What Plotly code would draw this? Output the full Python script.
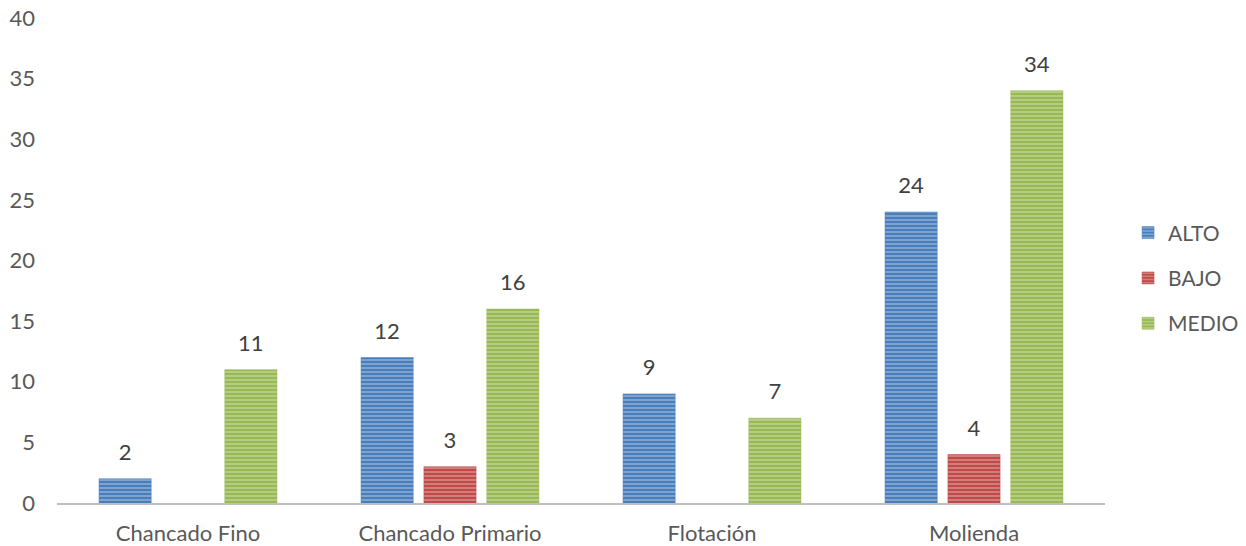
import plotly.graph_objects as go

categories = ["Chancado Fino", "Chancado Primario", "Flotación", "Molienda"]
alto = [2, 12, 9, 24]
bajo = [0, 3, 0, 4]
medio = [11, 16, 7, 34]
y_ticks = [0, 5, 10, 15, 20, 25, 30, 35, 40]

series = [
    ("ALTO", alto, "#4A7EBB", "#CCDAF0"),
    ("BAJO", bajo, "#BE4B48", "#F0C8C7"),
    ("MEDIO", medio, "#98B954", "#E0EBCA"),
]

FONT = "Lato"
FS = 22
GAP = 0.28
fig = go.Figure()
for i, (name, vals, col, light) in enumerate(series):
    fig.add_trace(go.Bar(
        name=name, x=categories, y=[v if v else None for v in vals],
        legendgroup=name, offsetgroup=str(i),
        marker=dict(color=col, line=dict(color=col, width=0.5),
                    pattern=dict(shape="-", fgcolor=light, bgcolor=col, size=4, solidity=0.4)),
        hoverinfo="x+y",
    ))
for i, (name, vals, col, light) in enumerate(series):
    fig.add_trace(go.Scatter(
        x=categories, y=[v if v else None for v in vals],
        mode="markers+text", text=[str(v) if v else "" for v in vals],
        textposition="top center", offsetgroup=str(i),
        marker=dict(size=20, color="rgba(0,0,0,0)"),
        textfont=dict(family=FONT, size=FS, color="#404040"),
        showlegend=False, hoverinfo="skip", cliponaxis=False,
    ))

fig.update_layout(
    width=1246, height=546,
    barmode="group", bargap=GAP, bargroupgap=0.17,
    scattermode="group", scattergap=GAP,
    plot_bgcolor="white", paper_bgcolor="white",
    margin=dict(l=57, r=141, t=18, b=43, autoexpand=False),
    font=dict(family=FONT, size=FS, color="#595959"),
    showlegend=True,
    legend=dict(x=1.022, y=0.464, xanchor="left", yanchor="middle",
                font=dict(family=FONT, size=21, color="#595959"),
                tracegroupgap=15, itemwidth=30),
    xaxis=dict(showline=True, linecolor="#BFBFBF", linewidth=2, ticks="", showgrid=False,
               ticklabelstandoff=10, automargin=False,
               tickfont=dict(family=FONT, size=FS, color="#595959")),
    yaxis=dict(range=[0, 40], tickvals=y_ticks, showgrid=False, zeroline=False, showline=False,
               ticks="", ticklabelstandoff=21, automargin=False,
               tickfont=dict(family=FONT, size=FS, color="#595959")),
)

fig.write_html("out.html")
